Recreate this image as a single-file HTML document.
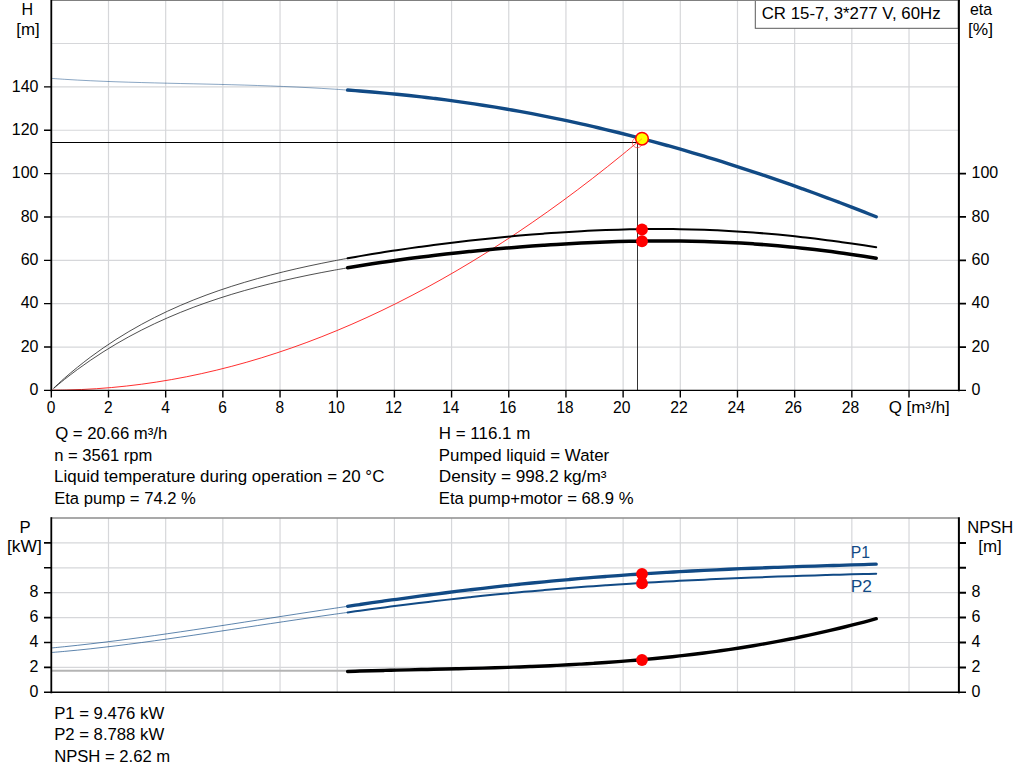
<!DOCTYPE html><html><head><meta charset="utf-8"><title>Pump curve</title><style>html,body{margin:0;padding:0;background:#fff}svg{display:block}text{font-family:"Liberation Sans",sans-serif;font-size:15.7px;fill:#000}</style></head><body>
<svg width="1024" height="781" viewBox="0 0 1024 781">
<rect width="1024" height="781" fill="#fff"/>
<path d="M108.50,0V390M165.68,0V390M222.86,0V390M280.04,0V390M337.22,0V390M394.40,0V390M451.58,0V390M508.76,0V390M565.94,0V390M623.12,0V390M680.30,0V390M737.48,0V390M794.66,0V390M851.84,0V390M909.02,0V390M52,347.04H958M52,303.68H958M52,260.32H958M52,216.96H958M52,173.60H958M52,130.24H958M52,86.88H958M52,43.52H958" stroke="#d6d7da" stroke-width="1.2" fill="none"/>
<path d="M108.50,518V692M165.68,518V692M222.86,518V692M280.04,518V692M337.22,518V692M394.40,518V692M451.58,518V692M508.76,518V692M565.94,518V692M623.12,518V692M680.30,518V692M737.48,518V692M794.66,518V692M851.84,518V692M909.02,518V692M52,667.40H958M52,642.50H958M52,617.60H958M52,592.70H958M52,567.80H958M52,542.90H958" stroke="#d6d7da" stroke-width="1.2" fill="none"/>
<path d="M51,0.3H958" stroke="#8c8c8c" stroke-width="1.4"/>
<path d="M51,518H958" stroke="#8c8c8c" stroke-width="1.6"/>
<path d="M52,142.5H637.5" stroke="#000" stroke-width="1.1"/>
<path d="M637.5,142.5V390" stroke="#333" stroke-width="1"/>
<path d="M51.60,78.42C53.74,78.57 60.18,79.03 64.47,79.31C68.76,79.58 73.05,79.83 77.34,80.07C81.63,80.30 85.92,80.52 90.21,80.72C94.50,80.93 98.79,81.11 103.08,81.29C107.37,81.46 111.66,81.62 115.95,81.77C120.24,81.92 124.53,82.06 128.82,82.19C133.11,82.33 137.40,82.45 141.69,82.56C145.98,82.68 150.27,82.79 154.56,82.90C158.85,83.00 163.14,83.11 167.43,83.21C171.72,83.31 176.01,83.40 180.30,83.50C184.59,83.59 188.88,83.69 193.17,83.79C197.46,83.88 201.74,83.98 206.03,84.08C210.32,84.18 214.61,84.28 218.90,84.39C223.19,84.50 227.48,84.61 231.77,84.72C236.06,84.84 240.35,84.96 244.64,85.09C248.93,85.22 253.22,85.35 257.51,85.50C261.80,85.64 266.09,85.79 270.38,85.96C274.67,86.12 278.96,86.29 283.25,86.47C287.54,86.65 291.83,86.84 296.12,87.04C300.41,87.24 304.70,87.46 308.99,87.68C313.28,87.91 317.57,88.15 321.86,88.40C326.15,88.65 330.44,88.92 334.73,89.19C339.02,89.47 345.46,89.93 347.60,90.07" stroke="#114a85" stroke-width="0.7" stroke-opacity="0.7" fill="none"/>
<path d="M53.60,388.20C55.41,386.53 60.51,381.68 64.47,378.20C68.43,374.73 73.05,370.83 77.34,367.35C81.63,363.87 85.92,360.54 90.21,357.32C94.50,354.11 98.79,351.03 103.08,348.05C107.37,345.08 111.66,342.24 115.95,339.49C120.24,336.74 124.53,334.11 128.82,331.58C133.11,329.04 137.40,326.61 141.69,324.27C145.98,321.92 150.27,319.68 154.56,317.51C158.85,315.34 163.14,313.26 167.43,311.26C171.72,309.25 176.01,307.33 180.30,305.48C184.59,303.62 188.88,301.84 193.17,300.12C197.46,298.40 201.74,296.76 206.03,295.16C210.32,293.57 214.61,292.04 218.90,290.56C223.19,289.08 227.48,287.66 231.77,286.28C236.06,284.90 240.35,283.58 244.64,282.30C248.93,281.01 253.22,279.78 257.51,278.58C261.80,277.39 266.09,276.23 270.38,275.12C274.67,274.00 278.96,272.92 283.25,271.87C287.54,270.82 291.83,269.81 296.12,268.82C300.41,267.84 304.70,266.89 308.99,265.96C313.28,265.04 317.57,264.14 321.86,263.27C326.15,262.39 330.44,261.54 334.73,260.72C339.02,259.89 345.46,258.71 347.60,258.31" stroke="#222" stroke-width="0.8" fill="none"/>
<path d="M53.60,388.40C55.41,386.91 60.51,382.57 64.47,379.43C68.43,376.30 73.05,372.75 77.34,369.59C81.63,366.42 85.92,363.39 90.21,360.45C94.50,357.51 98.79,354.69 103.08,351.96C107.37,349.24 111.66,346.62 115.95,344.09C120.24,341.56 124.53,339.13 128.82,336.78C133.11,334.43 137.40,332.18 141.69,330.00C145.98,327.82 150.27,325.73 154.56,323.71C158.85,321.68 163.14,319.74 167.43,317.86C171.72,315.99 176.01,314.19 180.30,312.44C184.59,310.70 188.88,309.02 193.17,307.40C197.46,305.78 201.74,304.23 206.03,302.72C210.32,301.22 214.61,299.77 218.90,298.37C223.19,296.97 227.48,295.62 231.77,294.31C236.06,293.01 240.35,291.75 244.64,290.53C248.93,289.32 253.22,288.15 257.51,287.01C261.80,285.87 266.09,284.78 270.38,283.72C274.67,282.65 278.96,281.63 283.25,280.63C287.54,279.64 291.83,278.68 296.12,277.75C300.41,276.81 304.70,275.91 308.99,275.04C313.28,274.16 317.57,273.31 321.86,272.49C326.15,271.67 330.44,270.87 334.73,270.09C339.02,269.32 345.46,268.21 347.60,267.83" stroke="#222" stroke-width="0.8" fill="none"/>
<path d="M51.60,390.19C54.10,390.16 61.61,390.13 66.62,390.02C71.62,389.91 76.63,389.74 81.64,389.52C86.64,389.30 91.65,389.02 96.65,388.69C101.66,388.35 106.67,387.96 111.67,387.52C116.68,387.08 121.68,386.58 126.69,386.02C131.70,385.47 136.70,384.86 141.71,384.19C146.71,383.53 151.72,382.81 156.73,382.03C161.73,381.25 166.74,380.42 171.74,379.54C176.75,378.65 181.76,377.71 186.76,376.72C191.77,375.72 196.77,374.68 201.78,373.57C206.79,372.47 211.79,371.31 216.80,370.09C221.80,368.88 226.81,367.61 231.82,366.29C236.82,364.97 241.83,363.59 246.83,362.16C251.84,360.73 256.85,359.24 261.85,357.71C266.86,356.17 271.86,354.57 276.87,352.92C281.88,351.28 286.88,349.57 291.89,347.82C296.89,346.06 301.90,344.25 306.91,342.39C311.91,340.53 316.92,338.61 321.92,336.64C326.93,334.67 331.94,332.64 336.94,330.56C341.95,328.48 346.95,326.35 351.96,324.16C356.96,321.98 361.97,319.74 366.98,317.45C371.98,315.15 376.99,312.81 381.99,310.41C387.00,308.01 392.01,305.56 397.01,303.05C402.02,300.54 407.02,297.98 412.03,295.37C417.04,292.76 422.04,290.09 427.05,287.38C432.05,284.66 437.06,281.89 442.07,279.06C447.07,276.24 452.08,273.36 457.08,270.43C462.09,267.50 467.10,264.52 472.10,261.48C477.11,258.45 482.11,255.36 487.12,252.22C492.13,249.08 497.13,245.89 502.14,242.64C507.14,239.40 512.15,236.10 517.16,232.75C522.16,229.40 527.17,226.00 532.17,222.54C537.18,219.09 542.19,215.58 547.19,212.03C552.20,208.47 557.20,204.86 562.21,201.19C567.22,197.53 572.22,193.82 577.23,190.05C582.23,186.28 587.24,182.47 592.25,178.60C597.25,174.73 602.26,170.80 607.26,166.83C612.27,162.86 617.28,158.83 622.28,154.76C627.29,150.68 634.01,145.05 637.30,142.37C640.59,139.70 641.22,139.31 642.00,138.70" stroke="#ff2424" stroke-width="0.95" fill="none"/>
<path d="M51.60,647.96C53.74,647.75 60.18,647.13 64.47,646.69C68.76,646.26 73.05,645.80 77.34,645.33C81.63,644.87 85.92,644.38 90.21,643.89C94.50,643.39 98.79,642.88 103.08,642.35C107.37,641.83 111.66,641.30 115.95,640.75C120.24,640.20 124.53,639.65 128.82,639.08C133.11,638.51 137.40,637.93 141.69,637.35C145.98,636.76 150.27,636.16 154.56,635.56C158.85,634.96 163.14,634.34 167.43,633.73C171.72,633.11 176.01,632.48 180.30,631.85C184.59,631.22 188.88,630.59 193.17,629.95C197.46,629.31 201.74,628.66 206.03,628.01C210.32,627.36 214.61,626.71 218.90,626.05C223.19,625.40 227.48,624.74 231.77,624.08C236.06,623.42 240.35,622.75 244.64,622.09C248.93,621.42 253.22,620.76 257.51,620.09C261.80,619.43 266.09,618.76 270.38,618.10C274.67,617.43 278.96,616.77 283.25,616.10C287.54,615.44 291.83,614.78 296.12,614.12C300.41,613.46 304.70,612.80 308.99,612.14C313.28,611.48 317.57,610.83 321.86,610.18C326.15,609.53 330.44,608.88 334.73,608.24C339.02,607.60 345.46,606.64 347.60,606.32" stroke="#114a85" stroke-width="0.8" stroke-opacity="0.85" fill="none"/>
<path d="M51.60,652.50C53.74,652.31 60.18,651.78 64.47,651.39C68.76,651.01 73.05,650.59 77.34,650.16C81.63,649.74 85.92,649.29 90.21,648.82C94.50,648.35 98.79,647.87 103.08,647.37C107.37,646.87 111.66,646.36 115.95,645.83C120.24,645.31 124.53,644.76 128.82,644.21C133.11,643.66 137.40,643.10 141.69,642.52C145.98,641.95 150.27,641.36 154.56,640.77C158.85,640.18 163.14,639.57 167.43,638.97C171.72,638.36 176.01,637.74 180.30,637.12C184.59,636.50 188.88,635.87 193.17,635.24C197.46,634.61 201.74,633.97 206.03,633.33C210.32,632.69 214.61,632.05 218.90,631.41C223.19,630.76 227.48,630.12 231.77,629.47C236.06,628.82 240.35,628.17 244.64,627.52C248.93,626.88 253.22,626.23 257.51,625.58C261.80,624.93 266.09,624.29 270.38,623.64C274.67,623.00 278.96,622.35 283.25,621.71C287.54,621.07 291.83,620.44 296.12,619.80C300.41,619.17 304.70,618.54 308.99,617.91C313.28,617.28 317.57,616.66 321.86,616.04C326.15,615.43 330.44,614.81 334.73,614.20C339.02,613.60 345.46,612.70 347.60,612.40" stroke="#114a85" stroke-width="0.8" stroke-opacity="0.85" fill="none"/>
<path d="M52,670.8H347" stroke="#b4b4b4" stroke-width="1.9"/>
<path d="M347.60,258.31C349.65,257.95 355.80,256.84 359.89,256.13C363.99,255.42 368.09,254.72 372.19,254.05C376.28,253.37 380.38,252.71 384.48,252.07C388.58,251.42 392.67,250.79 396.77,250.18C400.87,249.56 404.97,248.96 409.07,248.37C413.16,247.79 417.26,247.21 421.36,246.65C425.46,246.09 429.55,245.54 433.65,245.01C437.75,244.47 441.85,243.95 445.94,243.44C450.04,242.93 454.14,242.43 458.24,241.94C462.33,241.46 466.43,240.98 470.53,240.52C474.63,240.06 478.73,239.61 482.82,239.17C486.92,238.74 491.02,238.31 495.12,237.90C499.21,237.49 503.31,237.08 507.41,236.70C511.51,236.31 515.60,235.93 519.70,235.57C523.80,235.21 527.90,234.86 532.00,234.53C536.09,234.19 540.19,233.87 544.29,233.56C548.39,233.25 552.48,232.96 556.58,232.68C560.68,232.40 564.78,232.13 568.87,231.88C572.97,231.63 577.07,231.39 581.17,231.17C585.27,230.95 589.36,230.75 593.46,230.56C597.56,230.37 601.66,230.20 605.75,230.04C609.85,229.89 613.95,229.75 618.05,229.63C622.14,229.51 626.24,229.40 630.34,229.31C634.44,229.23 638.53,229.16 642.63,229.11C646.73,229.06 650.83,229.03 654.93,229.01C659.02,229.00 663.12,229.01 667.22,229.03C671.32,229.06 675.41,229.10 679.51,229.17C683.61,229.23 687.71,229.32 691.80,229.42C695.90,229.53 700.00,229.65 704.10,229.80C708.20,229.94 712.29,230.11 716.39,230.29C720.49,230.48 724.59,230.68 728.68,230.91C732.78,231.14 736.88,231.38 740.98,231.65C745.07,231.92 749.17,232.21 753.27,232.52C757.37,232.82 761.47,233.15 765.56,233.50C769.66,233.85 773.76,234.22 777.86,234.61C781.95,234.99 786.05,235.40 790.15,235.83C794.25,236.25 798.34,236.70 802.44,237.16C806.54,237.62 810.64,238.11 814.73,238.60C818.83,239.10 822.93,239.62 827.03,240.15C831.13,240.68 835.22,241.23 839.32,241.79C843.42,242.35 847.52,242.93 851.61,243.51C855.71,244.10 859.81,244.71 863.91,245.32C868.00,245.93 874.15,246.88 876.20,247.19" stroke="#000" stroke-width="2" stroke-linecap="round" fill="none"/>
<path d="M347.60,267.83C349.65,267.49 355.80,266.45 359.89,265.79C363.99,265.12 368.09,264.48 372.19,263.85C376.28,263.22 380.38,262.61 384.48,262.01C388.58,261.41 392.67,260.83 396.77,260.26C400.87,259.70 404.97,259.14 409.07,258.60C413.16,258.06 417.26,257.54 421.36,257.02C425.46,256.51 429.55,256.01 433.65,255.52C437.75,255.03 441.85,254.56 445.94,254.09C450.04,253.63 454.14,253.18 458.24,252.74C462.33,252.30 466.43,251.87 470.53,251.45C474.63,251.03 478.73,250.63 482.82,250.23C486.92,249.84 491.02,249.45 495.12,249.08C499.21,248.71 503.31,248.35 507.41,248.00C511.51,247.65 515.60,247.31 519.70,246.99C523.80,246.66 527.90,246.35 532.00,246.05C536.09,245.74 540.19,245.45 544.29,245.17C548.39,244.90 552.48,244.63 556.58,244.38C560.68,244.12 564.78,243.88 568.87,243.65C572.97,243.42 577.07,243.21 581.17,243.01C585.27,242.80 589.36,242.61 593.46,242.44C597.56,242.27 601.66,242.10 605.75,241.96C609.85,241.81 613.95,241.68 618.05,241.56C622.14,241.45 626.24,241.34 630.34,241.26C634.44,241.17 638.53,241.10 642.63,241.04C646.73,240.99 650.83,240.95 654.93,240.93C659.02,240.91 663.12,240.90 667.22,240.91C671.32,240.92 675.41,240.95 679.51,241.00C683.61,241.04 687.71,241.11 691.80,241.19C695.90,241.27 700.00,241.37 704.10,241.49C708.20,241.61 712.29,241.75 716.39,241.91C720.49,242.07 724.59,242.24 728.68,242.44C732.78,242.63 736.88,242.85 740.98,243.09C745.07,243.32 749.17,243.58 753.27,243.85C757.37,244.13 761.47,244.42 765.56,244.74C769.66,245.06 773.76,245.40 777.86,245.75C781.95,246.11 786.05,246.49 790.15,246.89C794.25,247.29 798.34,247.71 802.44,248.15C806.54,248.59 810.64,249.05 814.73,249.53C818.83,250.01 822.93,250.52 827.03,251.04C831.13,251.56 835.22,252.11 839.32,252.67C843.42,253.23 847.52,253.82 851.61,254.42C855.71,255.03 859.81,255.65 863.91,256.29C868.00,256.93 874.15,257.94 876.20,258.27" stroke="#000" stroke-width="3.5" stroke-linecap="round" fill="none"/>
<path d="M347.60,90.07C349.65,90.23 355.80,90.67 359.89,90.99C363.99,91.31 368.09,91.65 372.19,92.00C376.28,92.35 380.38,92.71 384.48,93.09C388.58,93.47 392.67,93.86 396.77,94.27C400.87,94.68 404.97,95.10 409.07,95.54C413.16,95.98 417.26,96.44 421.36,96.91C425.46,97.38 429.55,97.87 433.65,98.37C437.75,98.88 441.85,99.40 445.94,99.93C450.04,100.47 454.14,101.02 458.24,101.59C462.33,102.16 466.43,102.75 470.53,103.36C474.63,103.96 478.73,104.58 482.82,105.22C486.92,105.86 491.02,106.51 495.12,107.19C499.21,107.86 503.31,108.55 507.41,109.25C511.51,109.96 515.60,110.69 519.70,111.43C523.80,112.17 527.90,112.93 532.00,113.70C536.09,114.48 540.19,115.27 544.29,116.08C548.39,116.89 552.48,117.72 556.58,118.57C560.68,119.41 564.78,120.27 568.87,121.15C572.97,122.03 577.07,122.93 581.17,123.84C585.27,124.76 589.36,125.69 593.46,126.63C597.56,127.58 601.66,128.55 605.75,129.53C609.85,130.51 613.95,131.51 618.05,132.52C622.14,133.54 626.24,134.57 630.34,135.62C634.44,136.66 638.53,137.73 642.63,138.81C646.73,139.89 650.83,140.99 654.93,142.10C659.02,143.21 663.12,144.34 667.22,145.49C671.32,146.63 675.41,147.80 679.51,148.97C683.61,150.15 687.71,151.34 691.80,152.55C695.90,153.76 700.00,154.98 704.10,156.22C708.20,157.46 712.29,158.72 716.39,159.99C720.49,161.26 724.59,162.54 728.68,163.84C732.78,165.14 736.88,166.46 740.98,167.79C745.07,169.12 749.17,170.46 753.27,171.82C757.37,173.18 761.47,174.55 765.56,175.94C769.66,177.33 773.76,178.73 777.86,180.15C781.95,181.56 786.05,182.99 790.15,184.44C794.25,185.88 798.34,187.34 802.44,188.81C806.54,190.29 810.64,191.77 814.73,193.27C818.83,194.77 822.93,196.28 827.03,197.81C831.13,199.34 835.22,200.88 839.32,202.43C843.42,203.99 847.52,205.55 851.61,207.13C855.71,208.71 859.81,210.31 863.91,211.91C868.00,213.52 874.15,215.96 876.20,216.77" stroke="#114a85" stroke-width="3.4" stroke-linecap="round" fill="none"/>
<path d="M347.60,606.32C349.65,606.02 355.80,605.11 359.89,604.52C363.99,603.92 368.09,603.32 372.19,602.74C376.28,602.15 380.38,601.56 384.48,600.99C388.58,600.41 392.67,599.83 396.77,599.27C400.87,598.70 404.97,598.14 409.07,597.58C413.16,597.03 417.26,596.48 421.36,595.93C425.46,595.39 429.55,594.85 433.65,594.33C437.75,593.80 441.85,593.27 445.94,592.76C450.04,592.24 454.14,591.73 458.24,591.23C462.33,590.73 466.43,590.23 470.53,589.74C474.63,589.26 478.73,588.78 482.82,588.30C486.92,587.83 491.02,587.37 495.12,586.91C499.21,586.45 503.31,586.00 507.41,585.56C511.51,585.12 515.60,584.69 519.70,584.26C523.80,583.84 527.90,583.42 532.00,583.01C536.09,582.60 540.19,582.20 544.29,581.80C548.39,581.41 552.48,581.02 556.58,580.65C560.68,580.27 564.78,579.90 568.87,579.54C572.97,579.18 577.07,578.82 581.17,578.48C585.27,578.13 589.36,577.80 593.46,577.47C597.56,577.14 601.66,576.82 605.75,576.50C609.85,576.19 613.95,575.88 618.05,575.58C622.14,575.29 626.24,575.00 630.34,574.71C634.44,574.43 638.53,574.15 642.63,573.89C646.73,573.62 650.83,573.36 654.93,573.10C659.02,572.85 663.12,572.60 667.22,572.36C671.32,572.12 675.41,571.89 679.51,571.66C683.61,571.44 687.71,571.22 691.80,571.01C695.90,570.79 700.00,570.58 704.10,570.38C708.20,570.18 712.29,569.99 716.39,569.80C720.49,569.61 724.59,569.42 728.68,569.24C732.78,569.06 736.88,568.89 740.98,568.72C745.07,568.55 749.17,568.39 753.27,568.23C757.37,568.06 761.47,567.91 765.56,567.76C769.66,567.60 773.76,567.46 777.86,567.31C781.95,567.17 786.05,567.02 790.15,566.88C794.25,566.74 798.34,566.61 802.44,566.47C806.54,566.34 810.64,566.21 814.73,566.08C818.83,565.95 822.93,565.82 827.03,565.69C831.13,565.56 835.22,565.43 839.32,565.31C843.42,565.18 847.52,565.05 851.61,564.93C855.71,564.80 859.81,564.67 863.91,564.54C868.00,564.41 874.15,564.22 876.20,564.15" stroke="#114a85" stroke-width="3.3" stroke-linecap="round" fill="none"/>
<path d="M347.60,612.40C349.65,612.11 355.80,611.26 359.89,610.70C363.99,610.14 368.09,609.59 372.19,609.04C376.28,608.49 380.38,607.95 384.48,607.41C388.58,606.88 392.67,606.35 396.77,605.82C400.87,605.30 404.97,604.78 409.07,604.28C413.16,603.77 417.26,603.26 421.36,602.77C425.46,602.27 429.55,601.78 433.65,601.30C437.75,600.82 441.85,600.34 445.94,599.87C450.04,599.41 454.14,598.95 458.24,598.49C462.33,598.04 466.43,597.59 470.53,597.15C474.63,596.72 478.73,596.28 482.82,595.86C486.92,595.44 491.02,595.02 495.12,594.61C499.21,594.20 503.31,593.80 507.41,593.41C511.51,593.01 515.60,592.62 519.70,592.24C523.80,591.87 527.90,591.49 532.00,591.13C536.09,590.76 540.19,590.40 544.29,590.05C548.39,589.70 552.48,589.36 556.58,589.02C560.68,588.69 564.78,588.36 568.87,588.03C572.97,587.71 577.07,587.40 581.17,587.09C585.27,586.78 589.36,586.48 593.46,586.18C597.56,585.88 601.66,585.59 605.75,585.31C609.85,585.03 613.95,584.75 618.05,584.48C622.14,584.21 626.24,583.95 630.34,583.69C634.44,583.43 638.53,583.18 642.63,582.93C646.73,582.69 650.83,582.45 654.93,582.21C659.02,581.98 663.12,581.75 667.22,581.53C671.32,581.30 675.41,581.08 679.51,580.87C683.61,580.66 687.71,580.45 691.80,580.25C695.90,580.04 700.00,579.84 704.10,579.65C708.20,579.46 712.29,579.27 716.39,579.08C720.49,578.90 724.59,578.72 728.68,578.54C732.78,578.37 736.88,578.20 740.98,578.03C745.07,577.86 749.17,577.70 753.27,577.54C757.37,577.38 761.47,577.22 765.56,577.07C769.66,576.92 773.76,576.77 777.86,576.62C781.95,576.48 786.05,576.34 790.15,576.20C794.25,576.06 798.34,575.92 802.44,575.79C806.54,575.66 810.64,575.53 814.73,575.40C818.83,575.27 822.93,575.15 827.03,575.03C831.13,574.91 835.22,574.79 839.32,574.67C843.42,574.56 847.52,574.44 851.61,574.33C855.71,574.22 859.81,574.11 863.91,574.01C868.00,573.90 874.15,573.75 876.20,573.69" stroke="#114a85" stroke-width="2" stroke-linecap="round" fill="none"/>
<path d="M347.60,671.43C349.65,671.37 355.80,671.19 359.89,671.07C363.99,670.95 368.09,670.84 372.19,670.73C376.28,670.63 380.38,670.52 384.48,670.42C388.58,670.32 392.67,670.22 396.77,670.13C400.87,670.03 404.97,669.94 409.07,669.85C413.16,669.75 417.26,669.66 421.36,669.57C425.46,669.48 429.55,669.39 433.65,669.29C437.75,669.20 441.85,669.11 445.94,669.01C450.04,668.92 454.14,668.82 458.24,668.72C462.33,668.62 466.43,668.52 470.53,668.42C474.63,668.31 478.73,668.20 482.82,668.09C486.92,667.98 491.02,667.86 495.12,667.74C499.21,667.61 503.31,667.48 507.41,667.35C511.51,667.21 515.60,667.07 519.70,666.93C523.80,666.78 527.90,666.62 532.00,666.46C536.09,666.30 540.19,666.13 544.29,665.95C548.39,665.77 552.48,665.58 556.58,665.39C560.68,665.19 564.78,664.98 568.87,664.77C572.97,664.55 577.07,664.32 581.17,664.09C585.27,663.85 589.36,663.60 593.46,663.34C597.56,663.08 601.66,662.81 605.75,662.52C609.85,662.24 613.95,661.94 618.05,661.63C622.14,661.32 626.24,661.00 630.34,660.66C634.44,660.33 638.53,659.98 642.63,659.61C646.73,659.24 650.83,658.86 654.93,658.47C659.02,658.07 663.12,657.66 667.22,657.24C671.32,656.81 675.41,656.37 679.51,655.91C683.61,655.45 687.71,654.97 691.80,654.48C695.90,653.99 700.00,653.48 704.10,652.95C708.20,652.42 712.29,651.88 716.39,651.31C720.49,650.75 724.59,650.17 728.68,649.56C732.78,648.96 736.88,648.34 740.98,647.70C745.07,647.06 749.17,646.40 753.27,645.72C757.37,645.04 761.47,644.34 765.56,643.61C769.66,642.89 773.76,642.15 777.86,641.39C781.95,640.62 786.05,639.84 790.15,639.03C794.25,638.22 798.34,637.39 802.44,636.54C806.54,635.69 810.64,634.82 814.73,633.92C818.83,633.02 822.93,632.10 827.03,631.16C831.13,630.22 835.22,629.25 839.32,628.26C843.42,627.27 847.52,626.25 851.61,625.22C855.71,624.18 859.81,623.11 863.91,622.03C868.00,620.94 874.15,619.24 876.20,618.69" stroke="#000" stroke-width="3.4" stroke-linecap="round" fill="none"/>
<rect x="755.3" y="-1" width="203" height="29.3" fill="#fff" stroke="#5a5a5a" stroke-width="1"/>
<path d="M51,0.2H960" stroke="#808080" stroke-width="1.4"/>
<path d="M51.3,0V391.2" stroke="#000" stroke-width="1.8" fill="none"/><path d="M958.9,0V391.2" stroke="#000" stroke-width="2" fill="none"/>
<path d="M44,390.4H966" stroke="#000" stroke-width="1.4" fill="none"/>
<path d="M44,347.04H51M44,303.68H51M44,260.32H51M44,216.96H51M44,173.60H51M44,130.24H51M44,86.88H51" stroke="#000" stroke-width="1.35" fill="none"/>
<path d="M959,347.04H966M959,303.68H966M959,260.32H966M959,216.96H966M959,173.60H966" stroke="#000" stroke-width="1.8" fill="none"/>
<path d="M51.32,390V397.6M108.50,390V397.6M165.68,390V397.6M222.86,390V397.6M280.04,390V397.6M337.22,390V397.6M394.40,390V397.6M451.58,390V397.6M508.76,390V397.6M565.94,390V397.6M623.12,390V397.6M680.30,390V397.6M737.48,390V397.6M794.66,390V397.6M851.84,390V397.6M909.02,390V397.6" stroke="#000" stroke-width="1.4" fill="none"/>
<path d="M51.3,517.2V693.3" stroke="#000" stroke-width="1.8" fill="none"/><path d="M958.9,517.2V693.3" stroke="#000" stroke-width="2" fill="none"/>
<path d="M44,692.3H966" stroke="#000" stroke-width="1.4" fill="none"/>
<path d="M44,667.40H51M44,642.50H51M44,617.60H51M44,592.70H51M44,567.80H51M44,542.90H51" stroke="#000" stroke-width="1.6" fill="none"/>
<path d="M959,667.40H966M959,642.50H966M959,617.60H966M959,592.70H966M959,567.80H966M959,542.90H966" stroke="#000" stroke-width="2" fill="none"/>
<circle cx="637.3" cy="142.7" r="5" fill="none" stroke="#ff3030" stroke-width="0.8" stroke-opacity="0.8"/>
<circle cx="642" cy="138.7" r="6.3" fill="#ffff00" stroke="#ff0000" stroke-width="1.5"/>
<path d="M637.3,142.6L642,138.7" stroke="#ff3030" stroke-width="0.7" stroke-opacity="0.6"/>
<circle cx="642" cy="229.5" r="5.9" fill="#ff0000"/>
<circle cx="642" cy="241.25" r="5.9" fill="#ff0000"/>
<circle cx="642" cy="574.0" r="5.9" fill="#ff0000"/>
<circle cx="642" cy="583.4" r="5.9" fill="#ff0000"/>
<circle cx="642" cy="660" r="5.9" fill="#ff0000"/>
<text transform="translate(761.70,18.90) scale(1.0724,1)">CR 15-7, 3*277 V, 60Hz</text>
<text transform="translate(21.53,14.65) scale(1.0250,1)">H</text>
<text transform="translate(16.23,34.60) scale(1.0746,1)">[m]</text>
<text transform="translate(969.90,14.80) scale(1.0143,1)">eta</text>
<text transform="translate(968.00,34.60) scale(1.1029,1)">[%]</text>
<text transform="translate(888.70,412.60) scale(1.0783,1)">Q [m³/h]</text>
<text transform="translate(55.20,439.00) scale(1.0676,1)">Q = 20.66 m³/h</text>
<text transform="translate(54.14,461.00) scale(1.0576,1)">n = 3561 rpm</text>
<text transform="translate(54.12,482.00) scale(1.0794,1)">Liquid temperature during operation = 20 °C</text>
<text transform="translate(54.14,504.00) scale(1.0586,1)">Eta pump = 74.2 %</text>
<text transform="translate(438.82,439.00) scale(1.0806,1)">H = 116.1 m</text>
<text transform="translate(438.83,461.00) scale(1.0748,1)">Pumped liquid = Water</text>
<text transform="translate(438.80,482.00) scale(1.0955,1)">Density = 998.2 kg/m³</text>
<text transform="translate(438.84,504.00) scale(1.0627,1)">Eta pump+motor = 68.9 %</text>
<text transform="translate(54.13,719.00) scale(1.0651,1)">P1 = 9.476 kW</text>
<text transform="translate(54.13,740.00) scale(1.0651,1)">P2 = 8.788 kW</text>
<text transform="translate(54.14,762.00) scale(1.0604,1)">NPSH = 2.62 m</text>
<text transform="translate(19.43,532.60) scale(1.0667,1)">P</text>
<text transform="translate(6.96,551.60) scale(1.1090,1)">[kW]</text>
<text transform="translate(967.35,532.80) scale(1.0531,1)">NPSH</text>
<text transform="translate(978.22,551.70) scale(1.0819,1)">[m]</text>
<text transform="translate(850.80,557.90) scale(1.0021,1)" style="fill:#114a85">P1</text>
<text transform="translate(850.69,592.00) scale(1.1052,1)" style="fill:#114a85">P2</text>
<text transform="translate(38.50,394.90) scale(1.02,1)" text-anchor="end">0</text>
<text transform="translate(38.50,351.80) scale(1.02,1)" text-anchor="end">20</text>
<text transform="translate(38.50,307.80) scale(1.02,1)" text-anchor="end">40</text>
<text transform="translate(38.50,264.80) scale(1.02,1)" text-anchor="end">60</text>
<text transform="translate(38.50,221.70) scale(1.02,1)" text-anchor="end">80</text>
<text transform="translate(38.50,177.70) scale(1.02,1)" text-anchor="end">100</text>
<text transform="translate(38.50,134.90) scale(1.02,1)" text-anchor="end">120</text>
<text transform="translate(38.50,91.80) scale(1.02,1)" text-anchor="end">140</text>
<text transform="translate(971.50,394.90) scale(1.02,1)">0</text>
<text transform="translate(971.50,351.80) scale(1.02,1)">20</text>
<text transform="translate(971.50,307.80) scale(1.02,1)">40</text>
<text transform="translate(971.50,264.80) scale(1.02,1)">60</text>
<text transform="translate(971.50,221.70) scale(1.02,1)">80</text>
<text transform="translate(971.50,177.70) scale(1.02,1)">100</text>
<text transform="translate(51.12,412.50) scale(0.99,1)" text-anchor="middle">0</text>
<text transform="translate(108.30,412.50) scale(0.99,1)" text-anchor="middle">2</text>
<text transform="translate(165.48,412.50) scale(0.99,1)" text-anchor="middle">4</text>
<text transform="translate(222.66,412.50) scale(0.99,1)" text-anchor="middle">6</text>
<text transform="translate(279.84,412.50) scale(0.99,1)" text-anchor="middle">8</text>
<text transform="translate(336.32,412.50) scale(0.98,1)" text-anchor="middle">10</text>
<text transform="translate(393.50,412.50) scale(0.98,1)" text-anchor="middle">12</text>
<text transform="translate(450.68,412.50) scale(0.98,1)" text-anchor="middle">14</text>
<text transform="translate(507.86,412.50) scale(0.98,1)" text-anchor="middle">16</text>
<text transform="translate(565.04,412.50) scale(0.98,1)" text-anchor="middle">18</text>
<text transform="translate(621.82,412.50) scale(1.0,1)" text-anchor="middle">20</text>
<text transform="translate(679.00,412.50) scale(1.0,1)" text-anchor="middle">22</text>
<text transform="translate(736.18,412.50) scale(1.0,1)" text-anchor="middle">24</text>
<text transform="translate(793.36,412.50) scale(1.0,1)" text-anchor="middle">26</text>
<text transform="translate(850.54,412.50) scale(1.0,1)" text-anchor="middle">28</text>
<text transform="translate(38.50,697.00) scale(1.02,1)" text-anchor="end">0</text>
<text transform="translate(971.50,697.00) scale(1.02,1)">0</text>
<text transform="translate(38.50,672.00) scale(1.02,1)" text-anchor="end">2</text>
<text transform="translate(971.50,672.00) scale(1.02,1)">2</text>
<text transform="translate(38.50,646.90) scale(1.02,1)" text-anchor="end">4</text>
<text transform="translate(971.50,646.90) scale(1.02,1)">4</text>
<text transform="translate(38.50,622.00) scale(1.02,1)" text-anchor="end">6</text>
<text transform="translate(971.50,622.00) scale(1.02,1)">6</text>
<text transform="translate(38.50,597.00) scale(1.02,1)" text-anchor="end">8</text>
<text transform="translate(971.50,597.00) scale(1.02,1)">8</text>
</svg></body></html>
